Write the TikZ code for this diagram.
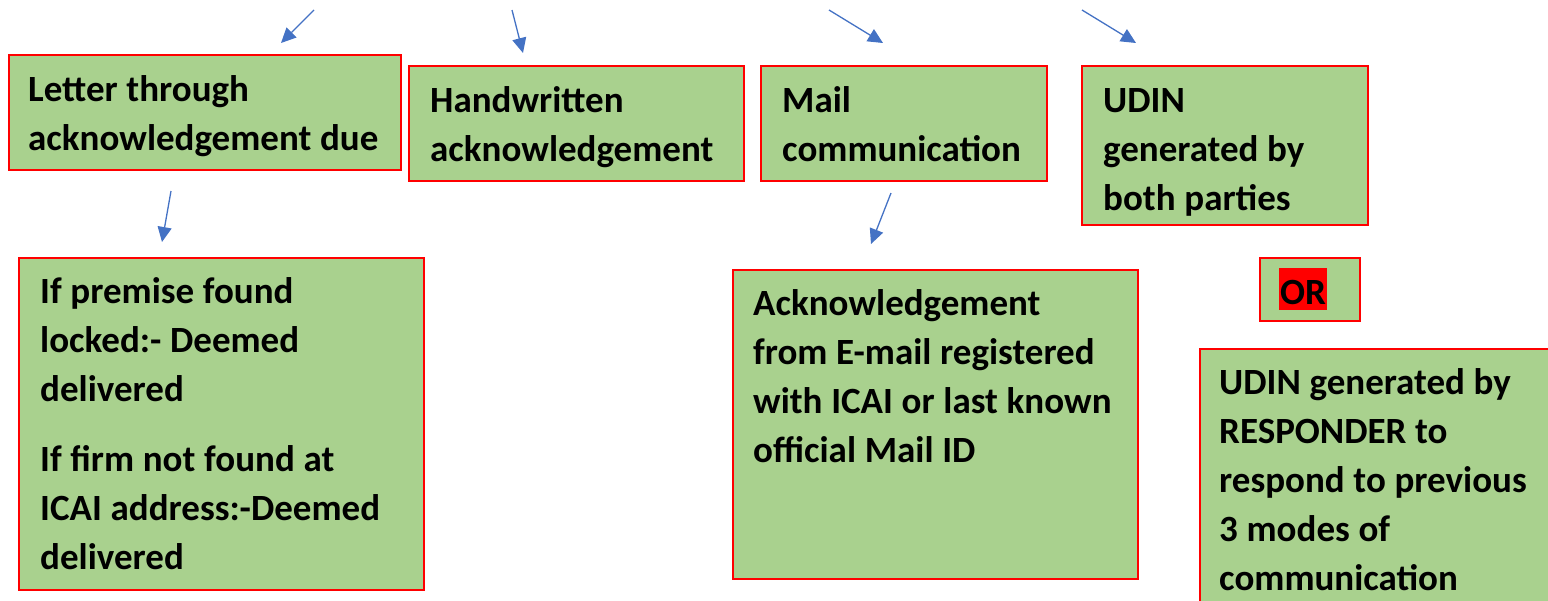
\documentclass[tikz,border=0pt]{standalone}
\usepackage{fontspec}
\setmainfont{Carlito}
\usetikzlibrary{arrows.meta}
\definecolor{boxgreen}{HTML}{A9D18E}
\definecolor{boxred}{HTML}{FF0000}
\definecolor{arrowblue}{HTML}{4472C4}
\newcommand{\tightwords}{\setlength{\spaceskip}{8.7pt}}
\tikzset{
  panel/.style={draw=boxred, fill=boxgreen, line width=2pt, rectangle,
    inner sep=0pt, anchor=north west},
  boxtext/.style={anchor=base west, inner sep=0pt, align=flush left, text width=420pt,
    font=\fontsize{37}{49}\selectfont\bfseries,
    execute at begin node=\tightwords},
  flow/.style={draw=arrowblue, line width=1.3pt,
    -{Triangle[length=15pt,width=14pt]}}
}
\begin{document}
\begin{tikzpicture}[x=1pt,y=-1pt]
\useasboundingbox (0,0) rectangle (1548,600);
\clip (0,0) rectangle (1548,600);

% boxes of the first row
\node[panel, minimum width=392pt, minimum height=115pt] (b1) at (8,54) {};
\node[panel, minimum width=335pt, minimum height=115pt] (b2) at (408,65) {};
\node[panel, minimum width=286pt, minimum height=115pt] (b3) at (760,65) {};
\node[panel, minimum width=286pt, minimum height=159pt] (b4) at (1081,65) {};

% boxes of the second row
\node[panel, minimum width=405pt, minimum height=332pt] (b5) at (18,257) {};
\node[panel, minimum width=405pt, minimum height=309pt] (b6) at (732,269) {};
\node[panel, minimum width=100pt, minimum height=63pt] (bor) at (1259,257) {};
\node[panel, minimum width=380pt, minimum height=300pt] (b7) at (1199,348) {};

% texts
\node[boxtext] (t1) at (28,101.5) {Letter through\\acknowledgement due};
\node[boxtext] (t2) at (430,112) {Handwritten\\acknowledgement};
\node[boxtext] (t3) at (782,112) {Mail\\communication};
\node[boxtext] (t4) at (1103,112) {UDIN\\generated by\\both parties};
\node[boxtext] (t5) at (40,303) {If premise found\\locked:- Deemed\\delivered\\[21pt]If firm not found at\\ICAI address:-Deemed\\delivered};
\node[boxtext] (t6) at (753,315) {Acknowledgement\\from E-mail registered\\with ICAI or last known\\official Mail ID};
\node[boxtext] (tor) at (1279,304) {{\setlength\fboxsep{0pt}\colorbox{boxred}{\rule[-6pt]{0pt}{42pt}\hspace{1pt}OR\hspace{1pt}}}};
\node[boxtext] (t7) at (1219,394) {UDIN generated by\\RESPONDER to\\respond to previous\\3 modes of\\communication};

% arrow ends
\coordinate (a1s) at (314,10);  \coordinate (a1e) at (281,43);
\coordinate (a2s) at (512,10);  \coordinate (a2e) at (523,53);
\coordinate (a3s) at (829,10);  \coordinate (a3e) at (883,43);
\coordinate (a4s) at (1082,10); \coordinate (a4e) at (1136,43);
\coordinate (a5s) at (171,191); \coordinate (a5e) at (162,242);
\coordinate (a6s) at (891,193); \coordinate (a6e) at (871,244);

% arrows
\draw[flow] (a1s) -- (a1e);
\draw[flow] (a2s) -- (a2e);
\draw[flow] (a3s) -- (a3e);
\draw[flow] (a4s) -- (a4e);
\draw[flow] (a5s) -- (a5e);
\draw[flow] (a6s) -- (a6e);
\end{tikzpicture}
\end{document}
